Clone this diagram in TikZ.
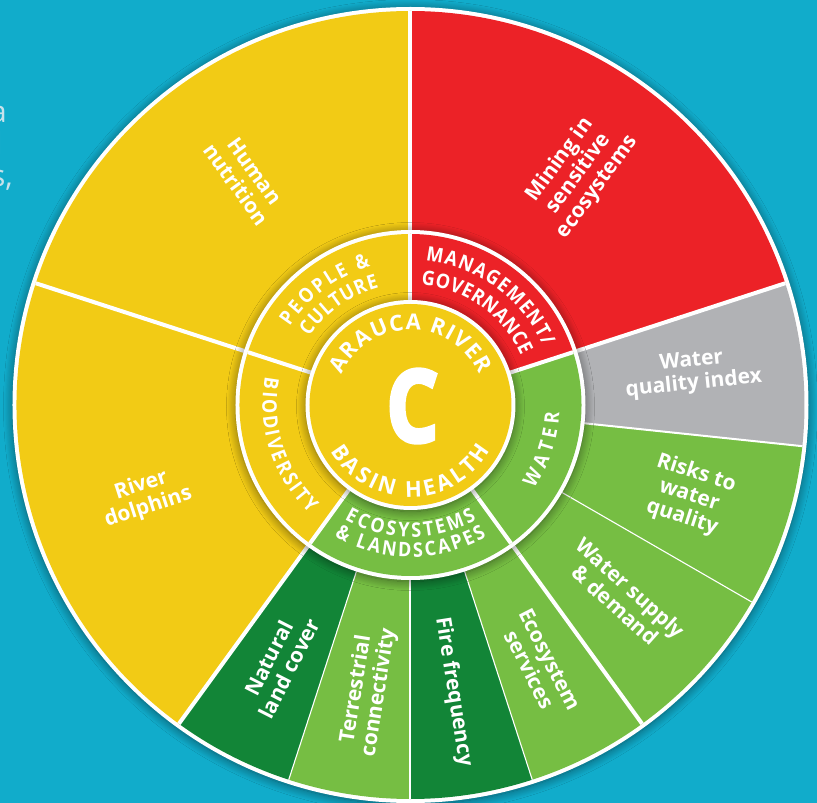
\documentclass[tikz,border=0pt]{standalone}
\usepackage{fontspec}
\usepackage{graphicx}
\setmainfont{Open Sans}
\newfontfamily\labelfont{Open Sans}
\newfontfamily\narrowfont{Open Sans}[FakeStretch=0.9]
\newfontfamily\gradefont{Open Sans}[BoldFeatures={FakeBold=4}]
\usetikzlibrary{decorations.text, shadows.blur}

\definecolor{bgteal}{RGB}{17,172,203}
\definecolor{wheelyellow}{RGB}{242,203,21}
\definecolor{wheelred}{RGB}{236,34,39}
\definecolor{wheelgrey}{RGB}{177,178,181}
\definecolor{lightgreen}{RGB}{118,190,67}
\definecolor{darkgreen}{RGB}{18,133,55}
\definecolor{fadedtext}{RGB}{200,226,235}

% r1 r2 start end colour
\newcommand\ringsector[5]{%
  \fill[#5] (#3:#1) arc[start angle=#3, end angle=#4, radius=#1]
    -- (#4:#2) arc[start angle=#4, end angle=#3, radius=#2] -- cycle;}
\newcommand\outerfont{\labelfont\bfseries\fontsize{21}{23}\selectfont}
\newcommand\ringfont{\narrowfont\bfseries\fontsize{20}{20}\selectfont}
\newcommand\corefont{\labelfont\bfseries\fontsize{22}{22}\selectfont}

\begin{document}
\begin{tikzpicture}[x=1pt, y=1pt,
    majorline/.style={white, line width=4pt},
    midline/.style={white, line width=2pt},
    minorline/.style={white, line width=1.1pt},
    wheelshadow/.style={blur shadow={shadow xshift=0pt, shadow yshift=-1.5pt,
      shadow blur radius=9pt, shadow blur steps=12, shadow opacity=50}},
    fragment/.style={text=fadedtext, anchor=base east, inner sep=0pt,
      font=\fontsize{30}{30}\selectfont},
    outerlabel/.style={text=white, align=center, inner sep=0pt, font=\outerfont},
    ringtext/.style={decorate, decoration={text along path, text color=white,
      text align={fit to path}, text={|\ringfont|#1}}},
    coretext/.style={decorate, decoration={text along path, text color=white,
      text align={fit to path}, text={|\corefont|#1}}}]
  \useasboundingbox (-410.5,-398) rectangle (406.5,405);
  \fill[bgteal] (-410.5,-398) rectangle (406.5,405);

  % ends of the page text behind the wheel
  \node[fragment] (fraga) at (-403.5,282) {a};
  \node[fragment] (fragl) at (-407.5,250) {l};
  \node[fragment] (frags) at (-397.5,218) {s,};

  % indicators
  \fill[white, wheelshadow] (0,0) circle (398);
  \ringsector{170}{394}{90}{162}{wheelyellow}
  \ringsector{170}{394}{162}{234}{wheelyellow}
  \ringsector{170}{394}{234}{252}{darkgreen}
  \ringsector{170}{394}{252}{270}{lightgreen}
  \ringsector{170}{394}{270}{288}{darkgreen}
  \ringsector{170}{394}{288}{354}{lightgreen}
  \ringsector{170}{394}{354}{378}{wheelgrey}
  \ringsector{170}{394}{18}{90}{wheelred}
  \foreach \a in {18,90,162,234,306} \draw[majorline] (0,0) -- (\a:394);
  \foreach \a in {270,354} \draw[midline] (0,0) -- (\a:394);
  \foreach \a in {252,288,330} \draw[minorline] (0,0) -- (\a:394);

  % themes
  \fill[white, wheelshadow] (0,0) circle (175);
  \ringsector{60}{171}{90}{162}{wheelyellow}
  \ringsector{60}{171}{162}{234}{wheelyellow}
  \ringsector{60}{171}{234}{306}{lightgreen}
  \ringsector{60}{171}{306}{378}{lightgreen}
  \ringsector{60}{171}{18}{90}{wheelred}
  \foreach \a in {18,90,162,234,306} \draw[majorline] (0,0) -- (\a:171);

  % grade
  \fill[white, wheelshadow] (0,0) circle (105);
  \fill[wheelyellow] (0,0) circle (101);
  \node[text=white, inner sep=0pt, font=\gradefont\bfseries\fontsize{100}{100}\selectfont]
    (grade) at (2,-1) {\scalebox{0.82}[1]{C}};
  \path[coretext={ARAUCA RIVER}] (156:75) arc[start angle=156, end angle=24, radius=75];
  \path[coretext={BASIN HEALTH}] (210:92) arc[start angle=210, end angle=330, radius=92];

  \path[ringtext={PEOPLE {\&}}] (147:144) arc[start angle=147, end angle=106, radius=144];
  \path[ringtext={CULTURE}] (146:122) arc[start angle=146, end angle=105, radius=122];
  \path[ringtext={MANAGEMENT/}] (84:145) arc[start angle=84, end angle=24, radius=145];
  \path[ringtext={GOVERNANCE}] (85:121) arc[start angle=85, end angle=24, radius=121];
  \path[ringtext={BIODIVERSITY}] (169:148) arc[start angle=169, end angle=227, radius=148];
  \path[ringtext={ECOSYSTEMS}] (240:132) arc[start angle=240, end angle=300, radius=132];
  \path[ringtext={{\&} LANDSCAPES}] (240:152) arc[start angle=240, end angle=300, radius=152];
  \path[ringtext={WATER}] (326:149) arc[start angle=326, end angle=357, radius=149];

  \node[outerlabel, rotate=-54] (nutrition) at (126:281) {Human\\nutrition};
  \node[outerlabel, rotate=54] (mining) at (54:286) {Mining in\\sensitive\\ecosystems};
  \node[outerlabel, rotate=6] (quality) at (6.5:284) {Water\\quality index};
  \node[outerlabel, rotate=-18] (risks) at (-18:293) {Risks to\\water\\quality};
  \node[outerlabel, rotate=-42] (supply) at (-42:286) {Water supply\\\& demand};
  \node[outerlabel, rotate=-63] (services) at (-63.5:290) {Ecosystem\\services};
  \node[outerlabel, rotate=-81] (fire) at (-81.5:290) {Fire frequency};
  \node[outerlabel, rotate=81] (connectivity) at (-98.5:289) {Terrestrial\\connectivity};
  \node[outerlabel, rotate=63] (landcover) at (-117:290) {Natural\\land cover};
  \node[outerlabel, rotate=18] (dolphins) at (199:281) {River\\dolphins};
\end{tikzpicture}
\end{document}
